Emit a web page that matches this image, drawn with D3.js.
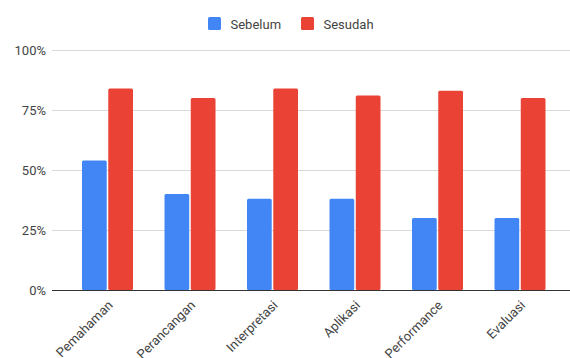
<!DOCTYPE html>
<html><head><meta charset="utf-8">
<script src="https://cdn.jsdelivr.net/npm/d3@7"></script>
<style>body{margin:0;background:#fff}svg{display:block;font-family:Roboto,Arial,sans-serif}</style>
</head><body>
<script>
const categories = ["Pemahaman","Perancangan","Interpretasi","Aplikasi","Performance","Evaluasi"];
const sebelum = [54,40,38,38,30,30];
const sesudah = [84,80,84,81,83,80];
const seriesNames = ["Sebelum","Sesudah"];
const colors = ["#4285F4","#EA4335"];
const yTicks = [0,25,50,75,100];

const W=570,H=358;
const svg=d3.select("body").append("svg").attr("width",W).attr("height",H);
const y=d3.scaleLinear().domain([0,100]).range([290,50]);
const x=d3.scaleBand().domain(categories).range([66.25,561.25]);
const inner=d3.scaleBand().domain(seriesNames).range([0,51]).paddingInner(3/51);
const gx0=x.bandwidth()/2-25.5;

// gridlines
svg.append("g").selectAll("line").data(yTicks.filter(d=>d>0)).join("line")
  .attr("x1",52).attr("x2",570).attr("y1",d=>y(d)).attr("y2",d=>y(d))
  .attr("stroke","#d9d9d9").attr("stroke-width",1).attr("shape-rendering","crispEdges");

// y axis labels
const yAxis=d3.axisLeft(y).tickValues(yTicks).tickFormat(d=>d+"%").tickSize(0).tickPadding(0);
const ya=svg.append("g").attr("transform","translate(46,0)").call(yAxis);
ya.select(".domain").remove();
ya.selectAll("text").attr("font-size",13).attr("fill","#444").attr("font-family","Roboto,Arial,sans-serif");

// bars
const data=categories.map((c,i)=>({c,vals:[sebelum[i],sesudah[i]]}));
const g=svg.append("g");
data.forEach(d=>{
  d.vals.forEach((v,j)=>{
    g.append("rect")
      .attr("x",x(d.c)+gx0+inner(seriesNames[j]))
      .attr("y",y(v))
      .attr("width",inner.bandwidth())
      .attr("height",y(0)-y(v))
      .attr("rx",1.5)
      .attr("fill",colors[j]);
  });
});

// baseline
svg.append("line").attr("x1",52).attr("x2",570).attr("y1",y(0)+0.5).attr("y2",y(0)+0.5)
  .attr("stroke","#333").attr("stroke-width",1);

// x labels
const xAxis=d3.axisBottom(x).tickSize(0);
const xa=svg.append("g").attr("transform","translate(0,290)").call(xAxis);
xa.select(".domain").remove();
xa.selectAll("text")
  .attr("font-size",13).attr("fill","#444").attr("font-family","Roboto,Arial,sans-serif")
  .attr("text-anchor","end").attr("dy",null).attr("y",0)
  .attr("transform","translate(6,16) rotate(-45)");

// legend
const leg=svg.append("g");
const legX=[208,301];
seriesNames.forEach((s,i)=>{
  leg.append("rect").attr("x",legX[i]).attr("y",17).attr("width",13).attr("height",13).attr("rx",1.5).attr("fill",colors[i]);
  leg.append("text").attr("x",legX[i]+22.5).attr("y",28.5).attr("font-size",13).attr("fill","#444").text(s);
});
</script>
</body></html>
